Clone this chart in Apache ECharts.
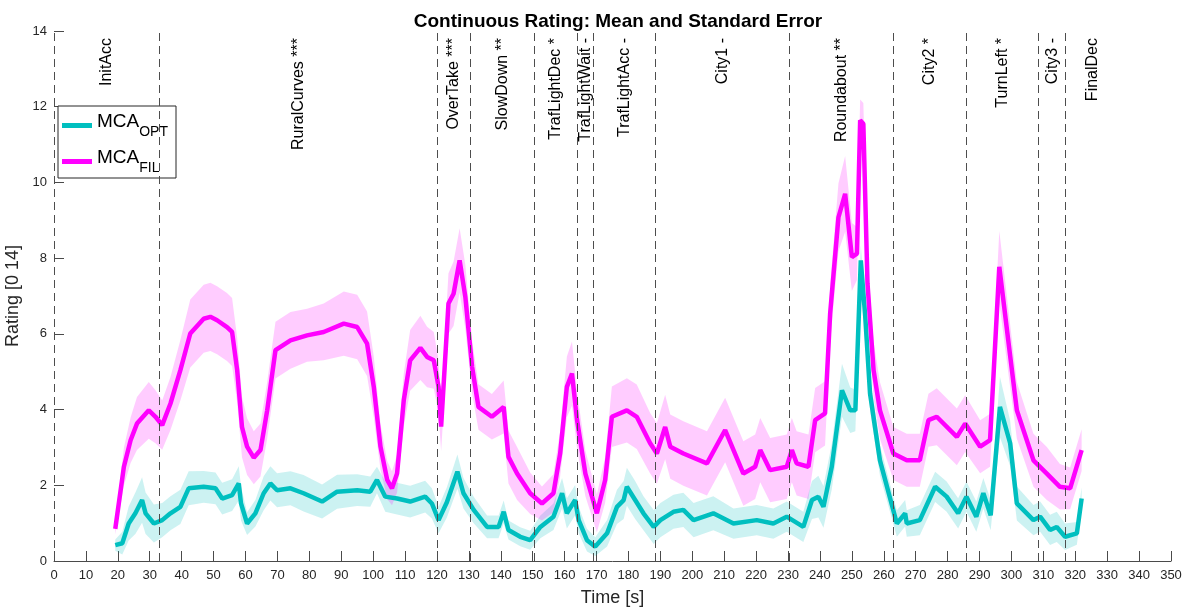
<!DOCTYPE html>
<html>
<head>
<meta charset="utf-8">
<script src="https://cdn.jsdelivr.net/npm/echarts@6/dist/echarts.min.js"></script>
<style>
  html, body { margin: 0; padding: 0; background: #fff; }
  #chart { width: 1192px; height: 611px; }
</style>
</head>
<body>
<div id="chart"></div>
<script>
// Mean rating over time (s) and its standard error, MCA_FIL condition
const filTime = [19.2, 21.9, 24, 26, 29.7, 31.8, 33.9, 36.5, 39.6, 42.7, 46.9, 49, 51.1, 54.2, 55.8, 57.4, 58.9, 60.5, 62.6, 64.7, 66.8, 69.4, 74.1, 79.3, 84.5, 90.8, 95, 98.1, 100.2, 102.3, 104.4, 105.9, 107.5, 109.6, 111.6, 114.8, 116.9, 119, 120.5, 121.3, 123.6, 125.2, 127.1, 128.9, 131, 133, 137.2, 140.9, 142.4, 145.1, 149.2, 152.9, 156.5, 158.6, 160.7, 162.3, 163.9, 166.5, 170.1, 172.7, 174.8, 179.5, 182.6, 186.8, 188.9, 191.5, 193.1, 197.2, 204.6, 210.3, 216, 219.7, 221.3, 224.4, 229.6, 231.2, 232.7, 236.4, 238.5, 241.6, 243.2, 245.8, 247.9, 250, 251.6, 252.6, 253.6, 254.9, 256.8, 258.8, 263, 267.2, 271.3, 274, 276.6, 282.9, 285.5, 290.2, 293.3, 296.2, 299, 301.7, 306.9, 311.1, 315.2, 318.4, 322];
const filMean = [0.85, 2.49, 3.19, 3.63, 3.98, 3.81, 3.59, 4.16, 5.04, 6.01, 6.40, 6.45, 6.36, 6.18, 6.05, 5.04, 3.54, 3.02, 2.73, 2.93, 3.98, 5.57, 5.83, 5.96, 6.05, 6.27, 6.18, 5.74, 4.6, 3.02, 2.14, 1.92, 2.31, 4.25, 5.3, 5.63, 5.39, 5.3, 4.6, 3.55, 6.8, 7.06, 7.94, 6.97, 5.13, 4.07, 3.81, 4.07, 2.75, 2.31, 1.79, 1.52, 1.79, 2.84, 4.6, 4.95, 3.72, 2.31, 1.26, 2.14, 3.81, 3.98, 3.81, 3.11, 2.84, 3.54, 3.02, 2.84, 2.58, 3.46, 2.31, 2.49, 2.93, 2.4, 2.49, 2.93, 2.58, 2.49, 3.72, 3.9, 6.54, 9.08, 9.7, 8.03, 8.12, 11.64, 11.55, 7.33, 5.04, 3.98, 2.84, 2.66, 2.66, 3.72, 3.81, 3.28, 3.63, 3.02, 3.19, 7.77, 5.83, 3.98, 2.66, 2.31, 1.96, 1.92, 2.93];
const filErr = [0.15, 0.5, 0.6, 0.7, 0.75, 0.7, 0.65, 0.7, 0.8, 0.9, 0.9, 0.9, 0.9, 0.9, 0.9, 0.85, 0.8, 0.75, 0.7, 0.7, 0.75, 0.75, 0.75, 0.7, 0.75, 0.85, 0.85, 0.85, 0.8, 0.6, 0.5, 0.45, 0.5, 0.7, 0.8, 0.85, 0.8, 0.75, 0.7, 0.65, 0.8, 0.85, 0.85, 0.85, 0.7, 0.6, 0.6, 0.7, 0.7, 0.7, 0.55, 0.45, 0.5, 0.6, 0.8, 0.85, 0.75, 0.6, 0.5, 0.6, 0.8, 0.85, 0.85, 0.8, 0.8, 0.85, 0.85, 0.85, 0.85, 0.85, 0.85, 0.85, 0.85, 0.85, 0.85, 0.85, 0.85, 0.85, 0.85, 0.85, 0.75, 0.9, 1.0, 0.9, 0.7, 0.55, 0.55, 0.7, 0.75, 0.75, 0.7, 0.7, 0.7, 0.7, 0.75, 0.75, 0.75, 0.7, 0.7, 0.95, 0.85, 0.75, 0.7, 0.7, 0.6, 0.55, 0.55];

// Mean rating over time (s) and its standard error, MCA_OPT condition
const optTime = [19.2, 21.4, 23.4, 25.5, 27.6, 28.7, 31.3, 33.9, 36.5, 39.6, 42.2, 46.9, 50.6, 52.7, 55.8, 57.9, 58.6, 60.5, 63.1, 65.7, 67.8, 69.9, 74.1, 78.2, 84, 88.7, 95, 99.1, 101.2, 103.8, 107.5, 111.6, 116.3, 118.4, 120.5, 123.1, 126.4, 128.3, 131.5, 135.7, 139.3, 140.9, 142.4, 146.1, 149.2, 152.4, 156.5, 159.2, 160.7, 163.3, 164.4, 167, 169.6, 173.3, 176.4, 178.5, 179.5, 182.1, 184.7, 187.9, 190, 194.1, 197.2, 200.4, 206.6, 212.9, 220.2, 225.4, 229.6, 234.8, 237.5, 239.5, 241.1, 243.7, 246.9, 249.5, 251.1, 252.8, 254.2, 255.7, 258.8, 264.1, 266.7, 267.2, 271.3, 276.1, 279.7, 283.3, 285.9, 289, 291.2, 293.5, 296.4, 299.6, 301.7, 306.9, 309, 312.1, 314.2, 316.8, 320.5, 322];
const optMean = [0.42, 0.47, 0.99, 1.26, 1.61, 1.26, 0.99, 1.08, 1.26, 1.43, 1.92, 1.96, 1.92, 1.65, 1.74, 2.05, 1.52, 0.99, 1.26, 1.79, 2.05, 1.87, 1.92, 1.79, 1.57, 1.83, 1.87, 1.83, 2.14, 1.7, 1.65, 1.57, 1.7, 1.52, 1.08, 1.55, 2.36, 1.79, 1.35, 0.9, 0.9, 1.3, 0.82, 0.64, 0.55, 0.9, 1.17, 1.79, 1.26, 1.61, 1.08, 0.55, 0.38, 0.73, 1.43, 1.61, 1.96, 1.61, 1.26, 0.9, 1.08, 1.3, 1.35, 1.08, 1.26, 0.99, 1.08, 0.99, 1.17, 0.9, 1.61, 1.7, 1.43, 2.49, 4.51, 3.98, 3.98, 7.94, 6.45, 4.42, 2.66, 0.99, 1.26, 0.99, 1.08, 1.96, 1.7, 1.26, 1.7, 1.17, 1.79, 1.21, 4.07, 3.11, 1.52, 1.08, 1.17, 0.82, 0.9, 0.64, 0.73, 1.65];
const optErr = [0.15, 0.3, 0.45, 0.55, 0.6, 0.55, 0.5, 0.45, 0.45, 0.45, 0.45, 0.42, 0.42, 0.42, 0.42, 0.45, 0.45, 0.3, 0.35, 0.45, 0.45, 0.45, 0.45, 0.48, 0.45, 0.45, 0.42, 0.4, 0.35, 0.4, 0.42, 0.42, 0.42, 0.4, 0.35, 0.4, 0.45, 0.4, 0.35, 0.3, 0.3, 0.3, 0.25, 0.25, 0.25, 0.3, 0.35, 0.4, 0.4, 0.4, 0.35, 0.3, 0.25, 0.35, 0.45, 0.5, 0.5, 0.5, 0.45, 0.45, 0.45, 0.45, 0.45, 0.45, 0.45, 0.4, 0.4, 0.4, 0.4, 0.4, 0.5, 0.55, 0.55, 0.6, 0.7, 0.6, 0.55, 0.4, 0.4, 0.45, 0.4, 0.35, 0.35, 0.35, 0.4, 0.4, 0.4, 0.4, 0.4, 0.4, 0.4, 0.4, 0.8, 0.6, 0.45, 0.4, 0.4, 0.4, 0.4, 0.35, 0.3, 0.3];

// Scenario segments: boundary times (s) and the label of each segment
const segmentBounds = [0, 33, 120, 130.5, 150.5, 164, 169, 188.5, 230.5, 263, 286, 308.5, 317, 334];
const segmentNames = ['InitAcc', 'RuralCurves ***', 'OverTake ***', 'SlowDown **', 'TrafLightDec *', 'TrafLightWait -', 'TrafLightAcc -', 'City1 -', 'Roundabout **', 'City2 *', 'TurnLeft *', 'City3 -', 'FinalDec'];

// Axis ticks
const xTicks = { min: 0, max: 350, step: 10 };
const yTicks = { min: 0, max: 14, step: 2 };

const FONT = "'Liberation Sans', Arial, Helvetica, sans-serif";
const TEXT = '#262626';
const OPT_COLOR = '#00BFBF';
const FIL_COLOR = '#FF00FF';

function meanLine(t, m) { return t.map((x, i) => [x, m[i]]); }
function bandData(t, m, e) { return t.map((x, i) => [x, m[i] - e[i], m[i] + e[i]]); }

// Shaded mean ± standard error region drawn as one polygon
function bandSeries(data, fill) {
  return {
    type: 'custom',
    silent: true,
    data: data,
    encode: { x: 0, y: [1, 2] },
    renderItem: function (params, api) {
      if (params.dataIndex !== 0) return null;
      const upper = data.map(d => api.coord([d[0], d[2]]));
      const lower = data.slice().reverse().map(d => api.coord([d[0], d[1]]));
      return {
        type: 'polygon',
        shape: { points: upper.concat(lower) },
        style: { fill: fill, stroke: null }
      };
    },
    z: 1
  };
}

const segMids = segmentNames.map((n, i) => [(segmentBounds[i] + segmentBounds[i + 1]) / 2, yTicks.max]);
const dividerTimes = segmentBounds.slice(0, segmentBounds.length - 1);

const chart = echarts.init(document.getElementById('chart'), null, { renderer: 'canvas' });

chart.setOption({
  animation: false,
  backgroundColor: '#fff',
  textStyle: { fontFamily: FONT },
  title: {
    text: 'Continuous Rating: Mean and Standard Error',
    left: 613,
    textAlign: 'center',
    top: 7,
    textStyle: { fontFamily: FONT, fontSize: 19, fontWeight: 'bold', color: '#000' }
  },
  grid: { left: 54, right: 21, top: 31, bottom: 50, containLabel: false, outerBoundsMode: 'none' },
  legend: {
    data: ['MCA_OPT', 'MCA_FIL'],
    orient: 'vertical',
    left: 58,
    top: 106,
    padding: [6, 8, 3, 4],
    itemGap: 9,
    itemWidth: 30,
    itemHeight: 5,
    icon: 'rect',
    backgroundColor: '#fff',
    borderColor: '#262626',
    borderWidth: 1,
    formatter: function (name) {
      return '{m|MCA}{s|' + name.split('_')[1] + '}';
    },
    textStyle: {
      color: '#000',
      fontFamily: FONT,
      rich: {
        m: { fontSize: 19, fontFamily: FONT, color: '#000', padding: [0, 0, 8, 0] },
        s: { fontSize: 14, fontFamily: FONT, color: '#000', padding: [13, 0, 0, 0] }
      }
    }
  },
  xAxis: {
    type: 'value',
    min: xTicks.min,
    max: xTicks.max,
    interval: xTicks.step,
    name: 'Time [s]',
    nameLocation: 'middle',
    nameGap: 28,
    nameTextStyle: { fontSize: 18, color: TEXT, fontFamily: FONT },
    axisLine: { show: true, lineStyle: { color: '#4a4a4a', width: 1 } },
    axisTick: { show: true, inside: true, length: 10, lineStyle: { color: '#4a4a4a' } },
    axisLabel: { fontSize: 13, color: TEXT, margin: 8, fontFamily: FONT },
    splitLine: { show: false }
  },
  yAxis: {
    type: 'value',
    min: yTicks.min,
    max: yTicks.max,
    interval: yTicks.step,
    name: 'Rating [0 14]',
    nameLocation: 'middle',
    nameGap: 27,
    nameTextStyle: { fontSize: 18, color: TEXT, fontFamily: FONT },
    axisLine: { show: false },
    axisTick: { show: true, inside: true, length: 10, lineStyle: { color: '#4a4a4a' } },
    axisLabel: { fontSize: 13, color: TEXT, margin: 7, fontFamily: FONT },
    splitLine: { show: false }
  },
  series: [
    bandSeries(bandData(optTime, optMean, optErr), 'rgba(0,191,191,0.2)'),
    bandSeries(bandData(filTime, filMean, filErr), 'rgba(255,0,255,0.2)'),
    {
      name: 'MCA_OPT',
      type: 'line',
      data: meanLine(optTime, optMean),
      showSymbol: false,
      symbol: 'none',
      lineStyle: { color: OPT_COLOR, width: 4.5 },
      itemStyle: { color: OPT_COLOR },
      z: 3
    },
    {
      name: 'MCA_FIL',
      type: 'line',
      data: meanLine(filTime, filMean),
      showSymbol: false,
      symbol: 'none',
      lineStyle: { color: FIL_COLOR, width: 4.5 },
      itemStyle: { color: FIL_COLOR },
      z: 4
    },
    {
      // segment dividers and rotated segment names
      type: 'custom',
      silent: true,
      data: segMids,
      encode: { x: 0, y: 1 },
      renderItem: function (params, api) {
        const p = api.coord([api.value(0), api.value(1)]);
        return {
          type: 'text',
          x: p[0],
          y: p[1] + 7,
          rotation: Math.PI / 2,
          style: {
            text: segmentNames[params.dataIndex],
            align: 'right',
            verticalAlign: 'middle',
            fontSize: 16,
            fontFamily: FONT,
            fill: '#000'
          }
        };
      },
      markLine: {
        silent: true,
        symbol: ['none', 'none'],
        label: { show: false },
        lineStyle: { type: [8, 5], color: '#4d4d4d', width: 1 },
        data: dividerTimes.map(t => ({ xAxis: t }))
      },
      z: 2
    }
  ]
});
</script>
</body>
</html>
